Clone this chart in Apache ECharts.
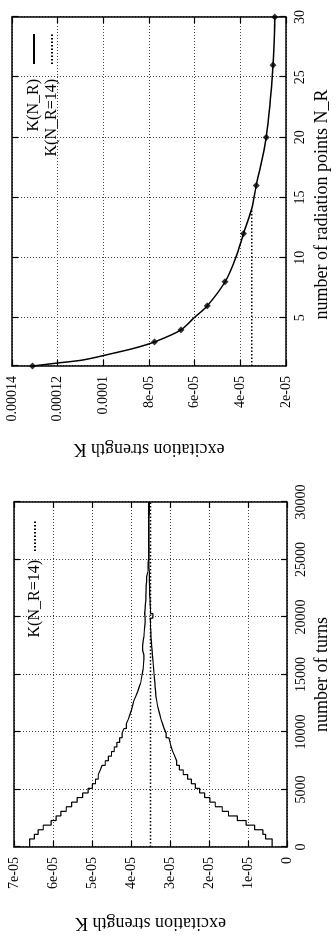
<!DOCTYPE html>
<html>
<head>
<meta charset="utf-8">
<script src="https://cdn.jsdelivr.net/npm/echarts@6/dist/echarts.min.js"></script>
<style>
html,body{margin:0;padding:0;background:#fff;}
#page{position:relative;width:336px;height:942px;overflow:hidden;background:#fff;}
/* the figure is laid out in landscape and turned a quarter turn counter-clockwise */
#chart{position:absolute;left:0;top:0;width:942px;height:336px;transform-origin:0 0;transform:translate(0,942px) rotate(-90deg);}
</style>
</head>
<body>
<div id="page"><div id="chart"></div></div>
<script>
// ---- left panel: K versus number of turns (step curves) ----
const turns = [
  0, 700, 1100, 1500, 1900, 2300, 2700, 3100, 3500, 3900,
  4300, 4700, 5100, 5500, 5900, 6300, 6700, 7100, 7500, 7900,
  8300, 8700, 9100, 9500, 9900, 10300, 10700, 11100, 11500, 11900,
  12300, 12700, 13100, 13500, 13900, 14300, 14700, 15100, 15500, 15900,
  16300, 16700, 17100, 17500, 17900, 18300, 18700, 19100, 19500, 19900,
  20300, 20700, 21100, 21500, 21900, 22300, 22700, 23100, 23500, 23900,
  24300, 24700, 25100, 25500, 25900, 26300, 26700, 27100, 27500, 27900,
  28300, 28700, 29100, 29500, 29900, 30000
];
const kFromAbove = [
  6.60e-5, 6.48e-5, 6.38e-5, 6.25e-5, 6.05e-5, 5.92e-5, 5.80e-5, 5.66e-5, 5.52e-5, 5.38e-5,
  5.24e-5, 5.10e-5, 4.99e-5, 4.91e-5, 4.84e-5, 4.79e-5, 4.74e-5, 4.66e-5, 4.58e-5, 4.50e-5,
  4.43e-5, 4.36e-5, 4.29e-5, 4.23e-5, 4.18e-5, 4.12e-5, 4.07e-5, 4.03e-5, 3.99e-5, 3.96e-5,
  3.93e-5, 3.88e-5, 3.83e-5, 3.79e-5, 3.75e-5, 3.73e-5, 3.71e-5, 3.69e-5, 3.68e-5, 3.67e-5,
  3.67e-5, 3.70e-5, 3.70e-5, 3.69e-5, 3.67e-5, 3.66e-5, 3.65e-5, 3.64e-5, 3.64e-5, 3.65e-5,
  3.64e-5, 3.63e-5, 3.62e-5, 3.62e-5, 3.61e-5, 3.61e-5, 3.60e-5, 3.60e-5, 3.57e-5, 3.56e-5,
  3.56e-5, 3.55e-5, 3.55e-5, 3.54e-5, 3.54e-5, 3.54e-5, 3.54e-5, 3.54e-5, 3.54e-5, 3.54e-5,
  3.54e-5, 3.53e-5, 3.53e-5, 3.53e-5, 3.53e-5, 3.53e-5
];
const kFromBelow = [
  0.38e-5, 0.55e-5, 0.62e-5, 0.83e-5, 1.05e-5, 1.27e-5, 1.50e-5, 1.66e-5, 1.84e-5, 1.98e-5,
  2.11e-5, 2.24e-5, 2.35e-5, 2.45e-5, 2.55e-5, 2.66e-5, 2.76e-5, 2.83e-5, 2.88e-5, 2.93e-5,
  2.97e-5, 3.00e-5, 3.03e-5, 3.10e-5, 3.15e-5, 3.19e-5, 3.23e-5, 3.26e-5, 3.29e-5, 3.32e-5,
  3.34e-5, 3.36e-5, 3.37e-5, 3.38e-5, 3.39e-5, 3.40e-5, 3.41e-5, 3.42e-5, 3.43e-5, 3.44e-5,
  3.45e-5, 3.46e-5, 3.47e-5, 3.48e-5, 3.49e-5, 3.49e-5, 3.50e-5, 3.50e-5, 3.51e-5, 3.44e-5,
  3.50e-5, 3.51e-5, 3.51e-5, 3.52e-5, 3.52e-5, 3.52e-5, 3.53e-5, 3.53e-5, 3.53e-5, 3.54e-5,
  3.54e-5, 3.54e-5, 3.54e-5, 3.54e-5, 3.55e-5, 3.55e-5, 3.55e-5, 3.55e-5, 3.55e-5, 3.55e-5,
  3.55e-5, 3.55e-5, 3.55e-5, 3.55e-5, 3.55e-5, 3.55e-5
];
const kAtNR14 = 3.5e-5;
const turnsRange = [0, 30000];

// ---- right panel: K versus number of radiation points ----
const nrCurve = [1, 1.25, 1.5, 2, 2.5, 3, 4, 5, 6, 8, 10, 12, 14, 16, 20, 26, 30];
const kCurve = [1.31e-4, 1.20e-4, 1.09e-4, 9.7e-5, 8.6e-5, 7.76e-5, 6.60e-5, 6.03e-5, 5.45e-5,
                4.67e-5, 4.20e-5, 3.86e-5, 3.51e-5, 3.30e-5, 2.87e-5, 2.57e-5, 2.49e-5];
const nrPoints = [1, 3, 4, 6, 8, 12, 16, 20, 26, 30];
const kPoints = [1.31e-4, 7.76e-5, 6.60e-5, 5.45e-5, 4.67e-5, 3.86e-5, 3.30e-5, 2.87e-5, 2.57e-5, 2.49e-5];
const nrDropRange = [1, 14];

const FONT = 'Liberation Serif';
const INK = '#000';

// gnuplot-like %g formatting for tick labels
function fmtG(v) {
  if (Math.abs(v) < 1e-12) return '0';
  const e = Math.floor(Math.log10(Math.abs(v)) + 1e-9);
  if (e < -4) {
    const m = parseFloat((v / Math.pow(10, e)).toPrecision(6));
    const ex = Math.abs(e);
    return m + 'e' + (e < 0 ? '-' : '+') + (ex < 10 ? '0' + ex : ex);
  }
  return String(parseFloat(v.toPrecision(6)));
}

const pairs = (xs, ys) => xs.map((x, i) => [x, ys[i]]);

const frameLine = { show: true, onZero: false, lineStyle: { color: INK, width: 1.5 } };
const inTick = { show: true, inside: true, length: 6, lineStyle: { color: INK, width: 1.2 } };
const gridLine = { show: true, lineStyle: { color: '#444', width: 1, type: [1, 2] } };
const tickText = { color: INK, fontFamily: FONT, fontSize: 14 };
const nameText = { color: INK, fontFamily: FONT, fontSize: 18 };

function mainX(gi, min, max, interval, name, gap, extra) {
  return Object.assign({
    gridIndex: gi, type: 'value', position: 'bottom', min: min, max: max, interval: interval,
    name: name, nameLocation: 'middle', nameGap: gap, nameTextStyle: nameText,
    axisLine: frameLine, axisTick: inTick, splitLine: gridLine,
    axisLabel: Object.assign({ margin: 7, formatter: fmtG }, tickText)
  }, extra || {});
}
function mirrorX(gi, min, max, interval) {
  return { gridIndex: gi, type: 'value', position: 'top', min: min, max: max, interval: interval,
    axisLine: frameLine, axisTick: inTick, axisLabel: { show: false }, splitLine: { show: false } };
}
function mainY(gi, min, max, interval, name, gap) {
  return {
    gridIndex: gi, type: 'value', position: 'left', min: min, max: max, interval: interval,
    name: name, nameLocation: 'middle', nameGap: gap, nameTextStyle: nameText,
    axisLine: frameLine, axisTick: inTick, splitLine: gridLine,
    axisLabel: Object.assign({ margin: 10, formatter: fmtG }, tickText)
  };
}
function mirrorY(gi, min, max, interval) {
  return { gridIndex: gi, type: 'value', position: 'right', min: min, max: max, interval: interval,
    axisLine: frameLine, axisTick: inTick, axisLabel: { show: false }, splitLine: { show: false } };
}

// legend samples show only the line, no symbol
const legendBase = {
  orient: 'vertical', align: 'right', itemWidth: 30, itemHeight: 14, itemGap: 0, padding: 0,
  selectedMode: false,
  itemStyle: { color: 'rgba(0,0,0,0)', borderWidth: 0, opacity: 0 }
};

const chart = echarts.init(document.getElementById('chart'), null, { width: 942, height: 336 });

chart.setOption({
  backgroundColor: '#fff',
  animation: false,
  grid: [
    { left: 95, top: 14, width: 345, height: 279 },
    { left: 576, top: 12, width: 349, height: 280 }
  ],
  xAxis: [
    mainX(0, turnsRange[0], turnsRange[1], 5000, 'number of turns', 26),
    mirrorX(0, turnsRange[0], turnsRange[1], 5000),
    mainX(1, 1, 30, null, 'number of radiation points N_R', 27, {
      nameTextStyle: Object.assign({ padding: [0, 26, 0, 0] }, nameText),
      axisLabel: Object.assign({ margin: 7, showMinLabel: false, formatter: fmtG }, tickText)
    }),
    mirrorX(1, 1, 30, null)
  ],
  yAxis: [
    mainY(0, 0, 7e-5, 1e-5, 'excitation strength K', 67),
    mirrorY(0, 0, 7e-5, 1e-5),
    mainY(1, 2e-5, 1.4e-4, 2e-5, 'excitation strength K', 74),
    mirrorY(1, 2e-5, 1.4e-4, 2e-5)
  ],
  legend: [
    Object.assign({}, legendBase, {
      data: ['K(N_R=14)'], right: 520, top: 26,
      textStyle: { color: INK, fontFamily: FONT, fontSize: 16, lineHeight: 18, padding: [0, 4, 0, 0] }
    }),
    Object.assign({}, legendBase, {
      data: ['K(N_R)', 'K(N_R=14)'], right: 33, top: 25,
      textStyle: { color: INK, fontFamily: FONT, fontSize: 16, lineHeight: 18, padding: [0, 10, 0, 0] }
    })
  ],
  series: [
    {
      name: 'K approached from above', type: 'line', xAxisIndex: 0, yAxisIndex: 0,
      step: 'end', symbol: 'none', data: pairs(turns, kFromAbove),
      lineStyle: { color: INK, width: 1.2 }, itemStyle: { color: INK }, z: 3
    },
    {
      name: 'K approached from below', type: 'line', xAxisIndex: 0, yAxisIndex: 0,
      step: 'end', symbol: 'none', data: pairs(turns, kFromBelow),
      lineStyle: { color: INK, width: 1.2 }, itemStyle: { color: INK }, z: 3
    },
    {
      name: 'K(N_R=14)', type: 'line', xAxisIndex: 0, yAxisIndex: 0, symbol: 'none',
      data: pairs(turnsRange, [kAtNR14, kAtNR14]),
      lineStyle: { color: INK, width: 1.3, type: [1.5, 2] }, itemStyle: { color: INK }, z: 2
    },
    {
      name: 'K(N_R)', type: 'line', xAxisIndex: 2, yAxisIndex: 2, symbol: 'none', smooth: 0.3,
      data: pairs(nrCurve, kCurve),
      lineStyle: { color: INK, width: 1.5 }, itemStyle: { color: INK }, z: 3
    },
    {
      name: 'K(N_R) points', type: 'scatter', xAxisIndex: 2, yAxisIndex: 2,
      symbol: 'diamond', symbolSize: 7, data: pairs(nrPoints, kPoints),
      itemStyle: { color: INK }, z: 4
    },
    {
      name: 'K(N_R=14)', type: 'line', xAxisIndex: 2, yAxisIndex: 2, symbol: 'none',
      data: pairs(nrDropRange, [kAtNR14, kAtNR14]),
      lineStyle: { color: INK, width: 1.3, type: [1.5, 2] }, itemStyle: { color: INK }, z: 2
    }
  ]
});
</script>
</body>
</html>
